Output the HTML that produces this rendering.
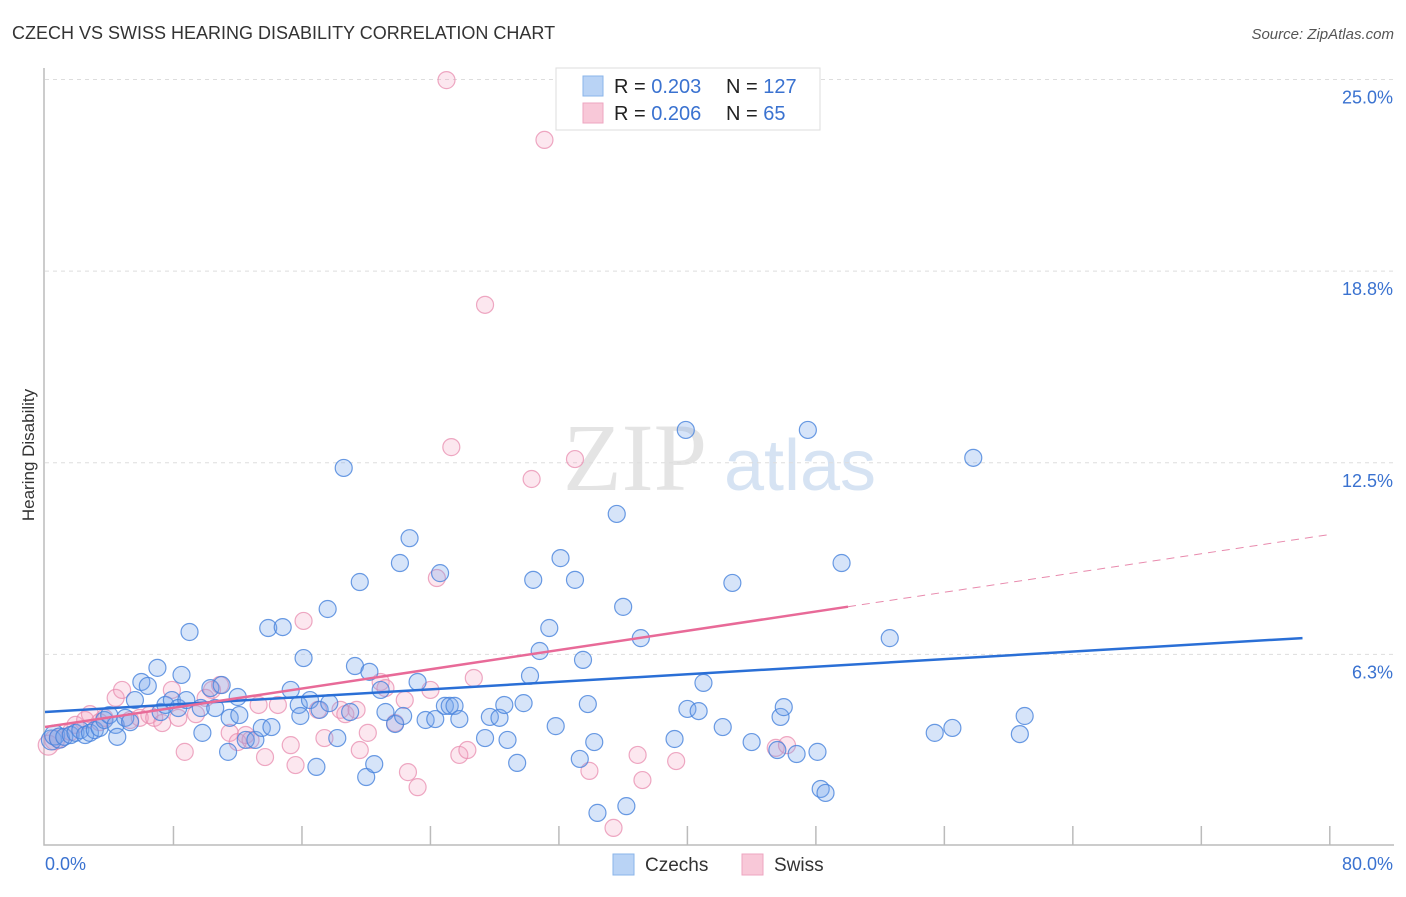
<!DOCTYPE html>
<html><head><meta charset="utf-8"><style>
body{margin:0;background:#fff;font-family:"Liberation Sans",sans-serif;}
svg text{font-family:"Liberation Sans",sans-serif;}
</style></head><body>
<svg id="chart" width="1406" height="892" xmlns="http://www.w3.org/2000/svg">
<text x="12" y="39" font-size="18" fill="#333">CZECH VS SWISS HEARING DISABILITY CORRELATION CHART</text>
<text x="1394" y="39" font-size="15" fill="#555" font-style="italic" text-anchor="end">Source: ZipAtlas.com</text>
<text x="34" y="455" font-size="17" fill="#333" text-anchor="middle" transform="rotate(-90 34 455)">Hearing Disability</text>
<g>
<text x="635" y="490" font-size="96" fill="#e4e4e4" text-anchor="middle" font-family="Liberation Serif" style="font-family:'Liberation Serif',serif">ZIP</text>
<text x="800" y="490" font-size="72" fill="#d6e3f3" text-anchor="middle">atlas</text>
</g>
<g id="grid"></g>
<g id="axes"></g>
<g id="marks"></g>
<g>
<rect x="556" y="68" width="264" height="62" fill="#fff" stroke="#ddd"/>
<rect x="583" y="76" width="20" height="20" fill="#b9d3f5" stroke="#8ab4ea"/>
<text x="614" y="93" font-size="20" fill="#222">R = <tspan fill="#3a72d0">0.203</tspan></text>
<text x="726" y="93" font-size="20" fill="#222">N = <tspan fill="#3a72d0">127</tspan></text>
<rect x="583" y="103" width="20" height="20" fill="#f8c8d8" stroke="#eea6c0"/>
<text x="614" y="120" font-size="20" fill="#222">R = <tspan fill="#3a72d0">0.206</tspan></text>
<text x="726" y="120" font-size="20" fill="#222">N = <tspan fill="#3a72d0"> 65</tspan></text>
</g>
<g>
<rect x="613" y="854" width="21" height="21" fill="#b9d3f5" stroke="#8ab4ea"/>
<text x="645" y="871" font-size="19" fill="#333">Czechs</text>
<rect x="742" y="854" width="21" height="21" fill="#f8c8d8" stroke="#eea6c0"/>
<text x="774" y="871" font-size="19" fill="#333">Swiss</text>
</g>
</svg>
<script>
const yTicks=[6.25,12.5,18.75,25];
const yTickLabels=["6.3%","12.5%","18.8%","25.0%"];
const xTickLabels=["0.0%","80.0%"];
const czechX=[0.4,0.6,0.9,1.2,1.6,1.9,2.2,2.5,2.8,3.1,3.4,3.7,4.0,4.4,4.5,5.0,5.3,5.6,6.0,6.4,7.0,7.2,7.5,7.9,8.3,8.5,8.8,9.0,9.7,9.8,10.3,10.6,11.0,11.4,11.5,12.0,12.1,12.5,13.1,13.5,13.9,14.1,14.8,15.3,15.8,15.9,16.1,16.5,16.9,17.1,17.6,17.7,18.2,18.6,19.0,19.3,19.6,20.0,20.2,20.5,20.9,21.2,21.8,22.1,22.3,22.7,23.2,23.7,24.3,24.6,24.9,25.2,25.5,25.8,27.4,27.7,28.3,28.6,28.8,29.4,29.8,30.2,30.4,30.8,31.4,31.8,32.1,33.0,33.3,33.5,33.8,34.2,34.4,35.6,36.0,36.2,37.1,39.2,39.9,40.0,40.7,41.0,42.2,42.8,44.0,45.6,45.8,46.0,46.8,47.5,48.1,48.3,48.6,49.6,52.6,55.4,56.5,57.8,60.7,61.0];
const czechY=[3.46,3.62,3.52,3.56,3.62,3.69,3.78,3.62,3.69,3.78,3.85,4.11,4.27,3.95,3.56,4.18,4.04,4.76,5.35,5.22,5.81,4.37,4.60,4.76,4.50,5.58,4.76,6.98,4.50,3.69,5.15,4.50,5.25,3.07,4.18,4.86,4.27,3.46,3.46,3.85,7.11,3.88,7.14,5.09,4.60,4.24,6.13,4.76,2.58,4.44,7.73,4.66,3.52,12.33,4.37,5.87,8.61,2.25,5.68,2.67,5.09,4.37,3.98,9.23,4.24,10.04,5.35,4.11,4.14,8.90,4.57,4.57,4.57,4.14,3.52,4.21,4.18,4.60,3.46,2.71,4.66,5.55,8.68,6.36,7.11,3.91,9.39,8.68,2.84,6.07,4.63,3.39,1.08,10.83,7.80,1.30,6.78,3.49,13.57,4.47,4.40,5.32,3.88,8.58,3.39,3.13,4.21,4.53,3.00,13.57,3.07,1.86,1.73,9.23,6.78,3.69,3.85,12.66,3.65,4.24];
const swissX=[0.2,0.6,0.9,1.6,1.9,2.5,2.8,3.4,3.7,4.4,4.8,5.3,5.9,6.5,6.8,7.3,7.9,8.3,8.7,9.4,10.0,10.4,10.9,11.5,12.0,12.5,12.8,13.3,13.7,14.5,15.3,15.6,16.1,17.0,17.4,18.4,18.7,19.4,19.6,20.1,20.9,21.2,21.8,22.4,22.6,23.2,24.0,24.4,25.3,25.8,26.3,26.7,27.4,30.3,31.1,25.0,33.0,33.9,35.4,36.9,37.2,39.3,45.5,46.2];
const swissY=[3.29,3.46,3.52,3.72,3.95,4.11,4.30,4.04,4.18,4.83,5.09,4.11,4.18,4.27,4.18,4.01,5.09,4.18,3.07,4.30,4.83,5.09,5.25,3.69,3.39,3.62,3.46,4.60,2.90,4.60,3.29,2.64,7.34,4.44,3.52,4.44,4.30,4.44,3.13,3.69,5.35,5.15,4.01,4.76,2.41,1.92,5.09,8.74,13.01,2.97,3.13,5.48,17.65,11.97,23.03,24.98,12.62,2.45,0.59,2.97,2.15,2.77,3.20,3.29];
const czechTrend=[4.37,0.0308]; // intercept, slope
const swissTrend=[3.88,0.0785];
const swissSolidEnd=50, swissDashEnd=80, czechEnd=78.3;

const NS="http://www.w3.org/2000/svg";
const X=v=>45+v*16.06, Y=v=>846-v*30.66;
function mk(tag,attrs,parent){const e=document.createElementNS(NS,tag);for(const k in attrs)e.setAttribute(k,attrs[k]);parent.appendChild(e);return e;}
const grid=document.getElementById('grid'),axes=document.getElementById('axes'),marks=document.getElementById('marks');
yTicks.forEach((t,i)=>{
 const l=mk('line',{x1:45,x2:1394,y1:Y(t),y2:Y(t),stroke:'#ddd','stroke-dasharray':'4,4'},grid);
 
 
 const tx=mk('text',{x:1393,y:Y(t)+24,'font-size':18,fill:'#3a72d0','text-anchor':'end'},axes);
 tx.textContent=yTickLabels[i];
 
 
});
const ax=mk('path',{d:'M44,68 L44,845 L1394,845',fill:'none',stroke:'#bbb','stroke-width':1.5},axes);


for(let i=1;i<=10;i++){const t=mk('line',{x1:X(i*8),x2:X(i*8),y1:826,y2:845,stroke:'#bbb','stroke-width':1.5},axes);
 
 }
[[0,45,'start'],[80,1393,'end']].forEach((d,i)=>{const t=mk('text',{x:d[1],y:870,'font-size':18,fill:'#3a72d0','text-anchor':d[2]},axes);t.textContent=xTickLabels[i];
 
 });
function dots(xs,ys,fill,stroke,name){xs.forEach((x,i)=>{const r=i<3?10:8.5;const c=mk('circle',{cx:X(x),cy:Y(ys[i]),r:r,fill:fill,stroke:stroke,'stroke-width':1.2},marks);
 
 });}
dots(swissX,swissY,'rgba(244,160,190,0.25)','rgba(232,140,175,0.75)','swiss-point');
dots(czechX,czechY,'rgba(120,165,235,0.3)','rgba(70,130,220,0.8)','czech-point');
const f=(t,x)=>t[0]+t[1]*x;
const l1=mk('line',{x1:X(0),y1:Y(f(czechTrend,0)),x2:X(czechEnd),y2:Y(f(czechTrend,czechEnd)),stroke:'#2a6fd6','stroke-width':2.5},marks);


const l2=mk('line',{x1:X(0),y1:Y(f(swissTrend,0)),x2:X(swissSolidEnd),y2:Y(f(swissTrend,swissSolidEnd)),stroke:'#e86a98','stroke-width':2.5},marks);


const l3=mk('line',{x1:X(swissSolidEnd),y1:Y(f(swissTrend,swissSolidEnd)),x2:X(swissDashEnd),y2:Y(f(swissTrend,swissDashEnd)),stroke:'#e88aad','stroke-width':1,'stroke-dasharray':'8,6'},marks);


</script>
</body></html>
